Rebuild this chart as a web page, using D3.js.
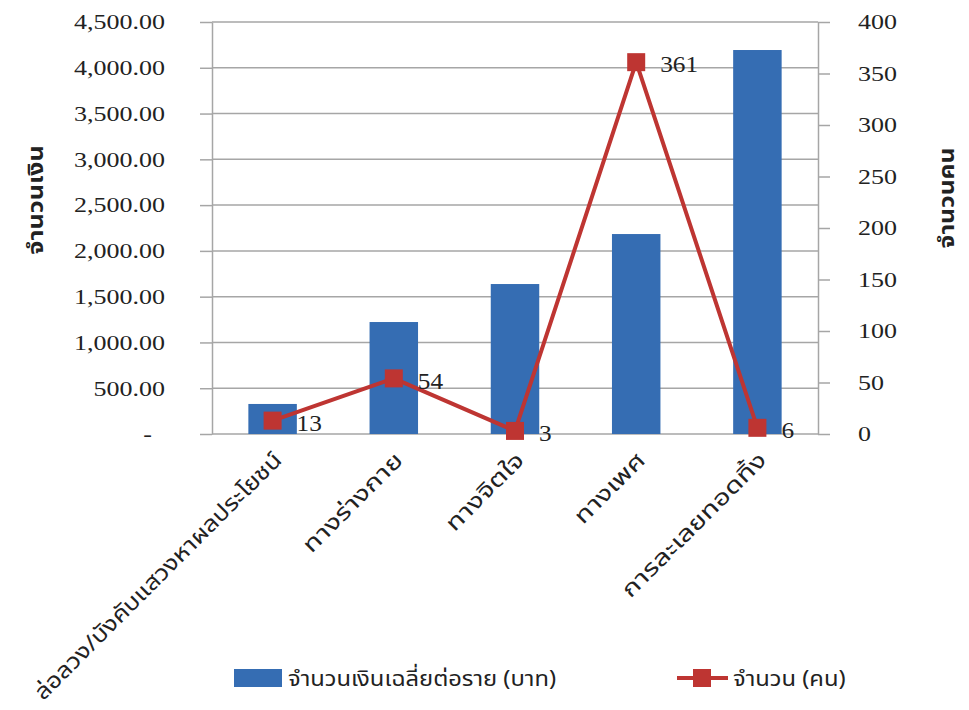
<!DOCTYPE html>
<html>
<head>
<meta charset="utf-8">
<script src="https://cdn.jsdelivr.net/npm/d3@7"></script>
<style>
  html, body { margin: 0; padding: 0; background: #ffffff; }
  svg { display: block; }
</style>
</head>
<body>
<svg id="chart" width="969" height="710"></svg>
<script>
// Categories of cases
const categories = [
  "ล่อลวง/บังคับแสวงหาผลประโยชน์",
  "ทางร่างกาย",
  "ทางจิตใจ",
  "ทางเพศ",
  "การละเลยทอดทิ้ง"
];
// Average amount per case (baht) – bars, left axis
const amountPerCase = [328, 1223, 1638, 2184, 4194];
// Number of people – line, right axis
const peopleCount = [13, 54, 3, 361, 6];

const leftTicks = [0, 500, 1000, 1500, 2000, 2500, 3000, 3500, 4000, 4500];
const leftTickLabels = ["-", "500.00", "1,000.00", "1,500.00", "2,000.00", "2,500.00", "3,000.00", "3,500.00", "4,000.00", "4,500.00"];
const rightTicks = [0, 50, 100, 150, 200, 250, 300, 350, 400];

const leftTitle = "จำนวนเงิน";
const rightTitle = "จำนวนคน";
const barLegend = "จำนวนเงินเฉลี่ยต่อราย (บาท)";
const lineLegend = "จำนวน (คน)";

const BLUE = "#356DB3";
const RED = "#BE3532";
const GRID = "#A6A6A6";
const SERIF = "'Liberation Serif', 'Times New Roman', serif";
const THAI = "'Noto Sans Thai', 'Tahoma', 'DejaVu Sans', sans-serif";

const svg = d3.select("#chart");
const plot = { left: 212, right: 818, top: 22, bottom: 434 };

const x = d3.scaleBand().domain(categories).range([plot.left, plot.right]).paddingInner(0.6).paddingOuter(0.3);
const xc = d => x(d) + x.bandwidth() / 2;
const yL = d3.scaleLinear().domain([0, 4500]).range([plot.bottom, plot.top]);
const yR = d3.scaleLinear().domain([0, 400]).range([plot.bottom, plot.top]);

// Horizontal gridlines at the left-axis ticks
svg.append("g").selectAll("line").data(leftTicks).join("line")
  .attr("x1", plot.left).attr("x2", plot.right)
  .attr("y1", d => yL(d)).attr("y2", d => yL(d))
  .attr("stroke", GRID).attr("stroke-width", 1.5);

// Left axis
const gL = svg.append("g").attr("transform", `translate(${plot.left},0)`)
  .call(d3.axisLeft(yL).tickValues(leftTicks).tickSize(12).tickSizeOuter(0)
    .tickFormat((d, i) => leftTickLabels[i]));
gL.select(".domain").attr("stroke", GRID).attr("stroke-width", 1.5);
gL.selectAll(".tick line").attr("stroke", GRID).attr("stroke-width", 1.5);
gL.selectAll(".tick text")
  .attr("x", null).attr("dy", "0.34em")
  .attr("transform", d => `translate(${d === 0 ? -60 : -47},0) scale(1.3,1)`)
  .attr("text-anchor", "end")
  .attr("font-family", SERIF).attr("font-size", 20).attr("fill", "#222");

// Right axis
const gR = svg.append("g").attr("transform", `translate(${plot.right},0)`)
  .call(d3.axisRight(yR).tickValues(rightTicks).tickSize(12).tickSizeOuter(0));
gR.select(".domain").attr("stroke", GRID).attr("stroke-width", 1.5);
gR.selectAll(".tick line").attr("stroke", GRID).attr("stroke-width", 1.5);
gR.selectAll(".tick text")
  .attr("x", null).attr("dy", "0.34em")
  .attr("transform", "translate(40,0) scale(1.3,1)")
  .attr("text-anchor", "start")
  .attr("font-family", SERIF).attr("font-size", 20).attr("fill", "#222");

// Bars
svg.append("g").selectAll("rect").data(categories).join("rect")
  .attr("x", d => x(d))
  .attr("y", (d, i) => yL(amountPerCase[i]))
  .attr("width", x.bandwidth())
  .attr("height", (d, i) => yL(0) - yL(amountPerCase[i]))
  .attr("fill", BLUE);

// Line with square markers
const line = d3.line().x((d, i) => xc(categories[i])).y(d => yR(d));
svg.append("path").datum(peopleCount)
  .attr("d", line).attr("fill", "none")
  .attr("stroke", RED).attr("stroke-width", 4).attr("stroke-linejoin", "round");
svg.append("g").selectAll("rect").data(peopleCount).join("rect")
  .attr("x", (d, i) => xc(categories[i]) - 9)
  .attr("y", d => yR(d) - 9)
  .attr("width", 18).attr("height", 18)
  .attr("fill", RED);

// Data labels to the right of each marker
svg.append("g").selectAll("text").data(peopleCount).join("text")
  .attr("transform", (d, i) => `translate(${xc(categories[i]) + 24},${yR(d) + 2}) scale(1.1,1)`)
  .attr("dy", "0.36em")
  .attr("font-family", SERIF).attr("font-size", 23).attr("fill", "#222")
  .text(d => d);

// Category labels, rotated and stretched along the text direction;
// a long label is stretched less so that it stays inside the page
const labelTop = plot.bottom + 22;
const maxLabelLen = (710 - 14 - labelTop) / Math.SQRT1_2;
svg.append("g").selectAll("text").data(categories).join("text")
  .attr("text-anchor", "end")
  .attr("dy", "0.35em")
  .attr("font-family", THAI).attr("font-size", 22).attr("fill", "#222")
  .text(d => d)
  .each(function (d) {
    const len = this.getComputedTextLength();
    const s = Math.min(1.3, maxLabelLen / len);
    d3.select(this).attr("transform", `translate(${xc(d) + 5},${labelTop}) rotate(-45) scale(${s},1)`);
  });

// Axis titles
svg.append("text")
  .attr("transform", "translate(35,200) rotate(-90) scale(1.15,1)")
  .attr("text-anchor", "middle").attr("dy", "0.35em")
  .attr("font-family", THAI).attr("font-size", 22).attr("font-weight", "bold").attr("fill", "#222")
  .text(leftTitle);
svg.append("text")
  .attr("transform", "translate(946,198) rotate(-90) scale(1.12,1)")
  .attr("text-anchor", "middle").attr("dy", "0.35em")
  .attr("font-family", THAI).attr("font-size", 22).attr("font-weight", "bold").attr("fill", "#222")
  .text(rightTitle);

// Legend
const leg = svg.append("g");
leg.append("rect").attr("x", 234).attr("y", 669).attr("width", 48).attr("height", 18).attr("fill", BLUE);
leg.append("text").attr("transform", "translate(288,678) scale(1.08,1)").attr("dy", "0.35em")
  .attr("font-family", THAI).attr("font-size", 22).attr("fill", "#222").text(barLegend);
leg.append("line").attr("x1", 677).attr("x2", 728).attr("y1", 678).attr("y2", 678)
  .attr("stroke", RED).attr("stroke-width", 4);
leg.append("rect").attr("x", 693).attr("y", 669).attr("width", 18).attr("height", 18).attr("fill", RED);
leg.append("text").attr("transform", "translate(733,678) scale(1.08,1)").attr("dy", "0.35em")
  .attr("font-family", THAI).attr("font-size", 22).attr("fill", "#222").text(lineLegend);
</script>
</body>
</html>
